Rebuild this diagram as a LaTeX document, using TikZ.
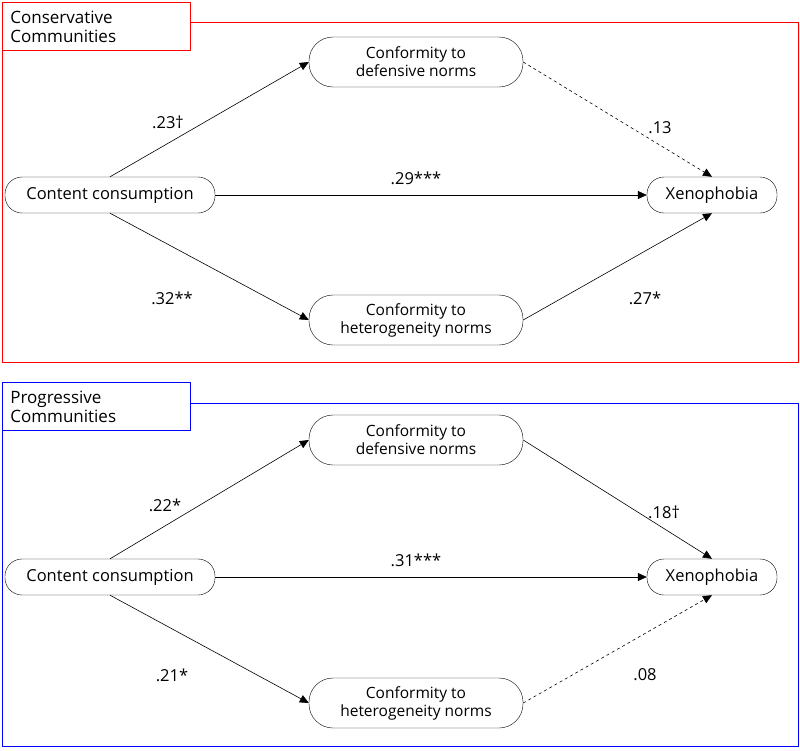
\documentclass[tikz,border=0pt]{standalone}
\usepackage{fontspec}
\setmainfont{Open Sans}
\usetikzlibrary{positioning,arrows.meta}

\begin{document}
\begin{tikzpicture}[
  x=1pt, y=-1pt,
  font=\fontsize{16.5}{19}\selectfont,
  varnode/.style={rectangle, rounded corners=17pt, draw=black, minimum width=210pt, minimum height=36pt, align=center},
  mednode/.style={rectangle, rounded corners=24pt, draw=black, minimum width=214pt, minimum height=50pt, align=center, font=\fontsize{15.5}{18}\selectfont},
  xenonode/.style={rectangle, rounded corners=17pt, draw=black, minimum width=130pt, minimum height=36pt},
  tagnode/.style={rectangle, draw=#1, thick, minimum width=188pt, minimum height=48pt, align=left, text width=172pt, inner sep=6pt, font=\fontsize{17}{19}\selectfont},
  arrow/.style = {semithick,-{Triangle[length=9pt,width=8pt]}},
  dasharrow/.style = {arrow, dashed}
]
\useasboundingbox (0,0) rectangle (800,750);

% Panels
\draw[red, thick] (2,22) rectangle (798,362);
\draw[blue, thick] (2,403) rectangle (798,746);
\node[tagnode=red, fill=white, anchor=north west] (consTag) at (2,2) {Conservative\\Communities};
\node[tagnode=blue, fill=white, anchor=north west] (progTag) at (2,382) {Progressive\\Communities};

%Nodes (top)
\node[varnode] (cc1) at (110,195) {Content consumption};
\node[xenonode] (xen1) at (712,195) {Xenophobia};
\node[mednode] (def1) at (416,62) {Conformity to\\defensive norms};
\node[mednode] (het1) at (416,320) {Conformity to\\heterogeneity norms};

%Nodes (bottom)
\node[varnode] (cc2) at (110,577) {Content consumption};
\node[xenonode] (xen2) at (712,577) {Xenophobia};
\node[mednode] (def2) at (416,440) {Conformity to\\defensive norms};
\node[mednode] (het2) at (416,703) {Conformity to\\heterogeneity norms};

%Arrows (top)
\draw[arrow] (cc1.north) -- (def1.west);
\draw[dasharrow] (def1.east) -- (xen1.north);
\draw[arrow] (cc1) -- (xen1);
\draw[arrow] (cc1.south) -- (het1.west);
\draw[arrow] (het1.east) -- (xen1.south);

%Arrows (bottom)
\draw[arrow] (cc2.north) -- (def2.west);
\draw[arrow] (def2.east) -- (xen2.north);
\draw[arrow] (cc2) -- (xen2);
\draw[arrow] (cc2.south) -- (het2.west);
\draw[dasharrow] (het2.east) -- (xen2.south);

%Labels
\node (l1) at (168,122) {.23†};
\node (l2) at (660,128) {.13};
\node (l3) at (416,178) {.29***};
\node (l4) at (172,298) {.32**};
\node (l5) at (645,298) {.27*};
\node (l6) at (165,505) {.22*};
\node (l7) at (664,512) {.18†};
\node (l8) at (416,560) {.31***};
\node (l9) at (172,675) {.21*};
\node (l10) at (645,675) {.08};

\end{tikzpicture}
\end{document}
